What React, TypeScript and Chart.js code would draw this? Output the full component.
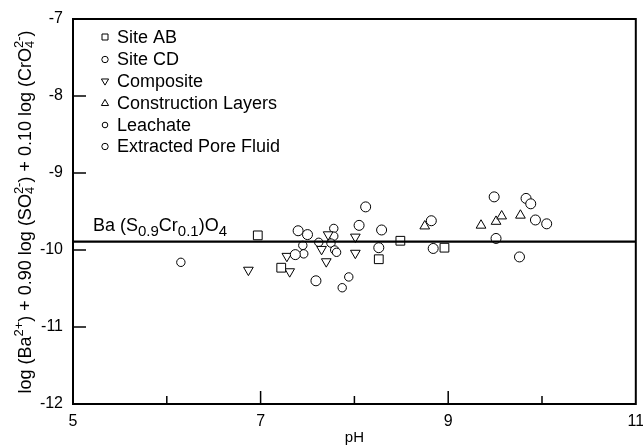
import React, { useEffect, useRef } from 'react';
import { Chart, registerables } from 'chart.js';
Chart.register(...registerables);

// ---- data (pH vs. log activity product) ----
const siteAB_pH = [6.97, 7.22, 8.26, 8.49, 8.96];
const siteAB_val = [-9.81, -10.23, -10.12, -9.88, -9.97];
const siteCD_pH = [7.40, 7.50, 7.37, 8.12, 8.05, 8.29, 8.26, 8.82, 8.84, 7.59];
const siteCD_val = [-9.75, -9.80, -10.06, -9.44, -9.68, -9.74, -9.97, -9.62, -9.98, -10.40];
const composite_pH = [6.87, 7.28, 7.31, 7.65, 7.70, 7.72, 8.01, 8.01];
const composite_val = [-10.26, -10.08, -10.28, -9.99, -10.15, -9.80, -9.83, -10.04];
const construction_pH = [8.75, 9.35, 9.51, 9.57, 9.77];
const construction_val = [-9.69, -9.68, -9.63, -9.56, -9.55];
const leachate_pH = [6.15, 7.45, 7.46, 7.62, 7.78, 7.78, 7.75, 7.79, 7.81, 7.94, 7.87];
const leachate_val = [-10.16, -9.94, -10.05, -9.90, -9.72, -9.82, -9.91, -10.00, -10.03, -10.35, -10.49];
const pore_pH = [9.49, 9.51, 9.83, 9.88, 9.93, 10.05, 9.76];
const pore_val = [-9.31, -9.85, -9.33, -9.40, -9.61, -9.66, -10.09];
const solubilityLine = -9.89;
const xRange = [5, 11];
const yRange = [-12, -7];
const xLabeled = [5, 7, 9, 11];
const legendLabels = ['Site AB', 'Site CD', 'Composite', 'Construction Layers', 'Leachate', 'Extracted Pore Fluid'];

const FONT = '"Liberation Sans", Arial, sans-serif';

const pts = (xs: number[], ys: number[]) => xs.map((x, i) => ({ x, y: ys[i] }));

type Seg = { t?: string; sup?: string; sub?: string };

function richWidth(ctx: CanvasRenderingContext2D, segs: Seg[], big: number, small: number) {
  let w = 0;
  for (const s of segs) {
    if (s.t) { ctx.font = `${big}px ${FONT}`; w += ctx.measureText(s.t).width; }
    else {
      ctx.font = `${small}px ${FONT}`;
      const a = s.sup ? ctx.measureText(s.sup).width : 0;
      const b = s.sub ? ctx.measureText(s.sub).width : 0;
      w += Math.max(a, b);
    }
  }
  return w;
}

function drawRich(ctx: CanvasRenderingContext2D, segs: Seg[], x: number, y: number, big: number, small: number, supOff: number, subOff: number) {
  ctx.textBaseline = 'alphabetic';
  ctx.textAlign = 'left';
  let cx = x;
  for (const s of segs) {
    if (s.t) {
      ctx.font = `${big}px ${FONT}`;
      ctx.fillText(s.t, cx, y);
      cx += ctx.measureText(s.t).width;
    } else {
      ctx.font = `${small}px ${FONT}`;
      let w = 0;
      if (s.sup) { ctx.fillText(s.sup, cx, y - supOff); w = Math.max(w, ctx.measureText(s.sup).width); }
      if (s.sub) { ctx.fillText(s.sub, cx, y + subOff); w = Math.max(w, ctx.measureText(s.sub).width); }
      cx += w;
    }
  }
}

function drawMarker(ctx: CanvasRenderingContext2D, kind: string, x: number, y: number, r: number) {
  ctx.beginPath();
  if (kind === 'rect') {
    ctx.rect(x - r, y - r, 2 * r, 2 * r);
  } else if (kind === 'circle') {
    ctx.arc(x, y, r, 0, Math.PI * 2);
  } else if (kind === 'up') {
    ctx.moveTo(x, y - r); ctx.lineTo(x + r, y + r * 0.7); ctx.lineTo(x - r, y + r * 0.7); ctx.closePath();
  } else if (kind === 'down') {
    ctx.moveTo(x, y + r); ctx.lineTo(x + r, y - r * 0.7); ctx.lineTo(x - r, y - r * 0.7); ctx.closePath();
  }
  ctx.fillStyle = '#fff';
  ctx.fill();
  ctx.stroke();
}

const decorPlugin = {
  id: 'decor',
  beforeDatasetsDraw(chart: any) {
    const { ctx, chartArea: a, scales } = chart;
    ctx.save();
    ctx.strokeStyle = '#000';
    ctx.lineWidth = 1.5;
    // inside ticks
    for (let v = xRange[0] + 1; v < xRange[1]; v++) {
      const px = scales.x.getPixelForValue(v);
      const len = xLabeled.includes(v) ? 13 : 8;
      ctx.beginPath(); ctx.moveTo(px, a.bottom); ctx.lineTo(px, a.bottom - len); ctx.stroke();
    }
    for (let v = yRange[0] + 1; v < yRange[1]; v++) {
      const py = scales.y.getPixelForValue(v);
      ctx.beginPath(); ctx.moveTo(a.left, py); ctx.lineTo(a.left + 13, py); ctx.stroke();
    }
    // frame
    ctx.lineWidth = 2;
    ctx.strokeRect(a.left, a.top, a.right - a.left, a.bottom - a.top);
    ctx.restore();
  },
  afterDraw(chart: any) {
    const { ctx, scales } = chart;
    ctx.save();
    ctx.fillStyle = '#000';
    ctx.strokeStyle = '#000';
    // legend
    const kinds = ['rect', 'circle', 'down', 'up', 'circle', 'circle'];
    const sizes = [3, 3.2, 3.6, 3.6, 2.8, 3.2];
    const rowY = [37, 59.5, 81.5, 103, 125, 146.5];
    ctx.lineWidth = 1;
    legendLabels.forEach((lab, i) => {
      drawMarker(ctx, kinds[i], 105, rowY[i], sizes[i]);
      ctx.fillStyle = '#000';
      ctx.font = `18px ${FONT}`;
      ctx.textBaseline = 'middle';
      ctx.textAlign = 'left';
      ctx.fillText(lab, 117, rowY[i] + 1);
    });
    // phase annotation
    const ly = scales.y.getPixelForValue(solubilityLine);
    const ann: Seg[] = [{ t: 'Ba (S' }, { sub: '0.9' }, { t: 'Cr' }, { sub: '0.1' }, { t: ')O' }, { sub: '4' }];
    ctx.fillStyle = '#000';
    drawRich(ctx, ann, 93, ly - 11, 18, 15, 0, 5);
    // y axis title
    const title: Seg[] = [
      { t: 'log (Ba' }, { sup: '2+' }, { t: ') + 0.90 log (SO' }, { sub: '4', sup: '2-' },
      { t: ') + 0.10 log (CrO' }, { sub: '4', sup: '2-' }, { t: ')' },
    ];
    const w = richWidth(ctx, title, 18, 13);
    ctx.translate(31, 212);
    ctx.rotate(-Math.PI / 2);
    drawRich(ctx, title, -w / 2, 0, 18, 13, 8, 3);
    ctx.restore();
  },
};

export default function App() {
  const ref = useRef<HTMLCanvasElement>(null);
  useEffect(() => {
    document.body.style.margin = '0';
    const common = { borderColor: '#000', backgroundColor: '#fff', borderWidth: 1, showLine: false };
    const chart = new Chart(ref.current!, {
      type: 'scatter',
      data: {
        datasets: [
          { type: 'line', label: 'line', data: [{ x: xRange[0], y: solubilityLine }, { x: xRange[1], y: solubilityLine }], borderColor: '#000', borderWidth: 2.2, pointRadius: 0, fill: false } as any,
          { label: legendLabels[0], data: pts(siteAB_pH, siteAB_val), pointStyle: 'rect', pointRadius: 6.2, ...common },
          { label: legendLabels[1], data: pts(siteCD_pH, siteCD_val), pointStyle: 'circle', pointRadius: 5, ...common },
          { label: legendLabels[2], data: pts(composite_pH, composite_val), pointStyle: 'triangle', pointRotation: 180, pointRadius: 5.6, ...common },
          { label: legendLabels[3], data: pts(construction_pH, construction_val), pointStyle: 'triangle', pointRadius: 5.6, ...common },
          { label: legendLabels[4], data: pts(leachate_pH, leachate_val), pointStyle: 'circle', pointRadius: 4.2, ...common },
          { label: legendLabels[5], data: pts(pore_pH, pore_val), pointStyle: 'circle', pointRadius: 5, ...common },
        ],
      },
      options: {
        responsive: false,
        animation: false,
        layout: { padding: { top: 19, right: 7, left: 0, bottom: 0 } },
        plugins: { legend: { display: false }, tooltip: { enabled: false } },
        scales: {
          x: {
            type: 'linear', min: xRange[0], max: xRange[1],
            grid: { display: false, drawTicks: false },
            border: { display: false },
            ticks: {
              stepSize: 1, padding: 8, color: '#000', font: { family: FONT, size: 16 },
              callback: (v: any) => (xLabeled.includes(Number(v)) ? String(v) : ''),
              maxRotation: 0, autoSkip: false,
            },
            title: { display: true, text: 'pH', color: '#000', font: { family: FONT, size: 15 }, padding: { top: 0, bottom: 0 } },
            afterFit: (s: any) => { s.height = 43; s.paddingLeft = 0; s.paddingRight = 0; },
          },
          y: {
            type: 'linear', min: yRange[0], max: yRange[1],
            grid: { display: false, drawTicks: false },
            border: { display: false },
            ticks: { stepSize: 1, padding: 10, color: '#000', font: { family: FONT, size: 16 } },
            afterFit: (s: any) => { s.width = 73; s.paddingTop = 0; s.paddingBottom = 0; },
          },
        },
      },
      plugins: [decorPlugin],
    });
    return () => chart.destroy();
  }, []);
  return <canvas ref={ref} width={643} height={447} />;
}
